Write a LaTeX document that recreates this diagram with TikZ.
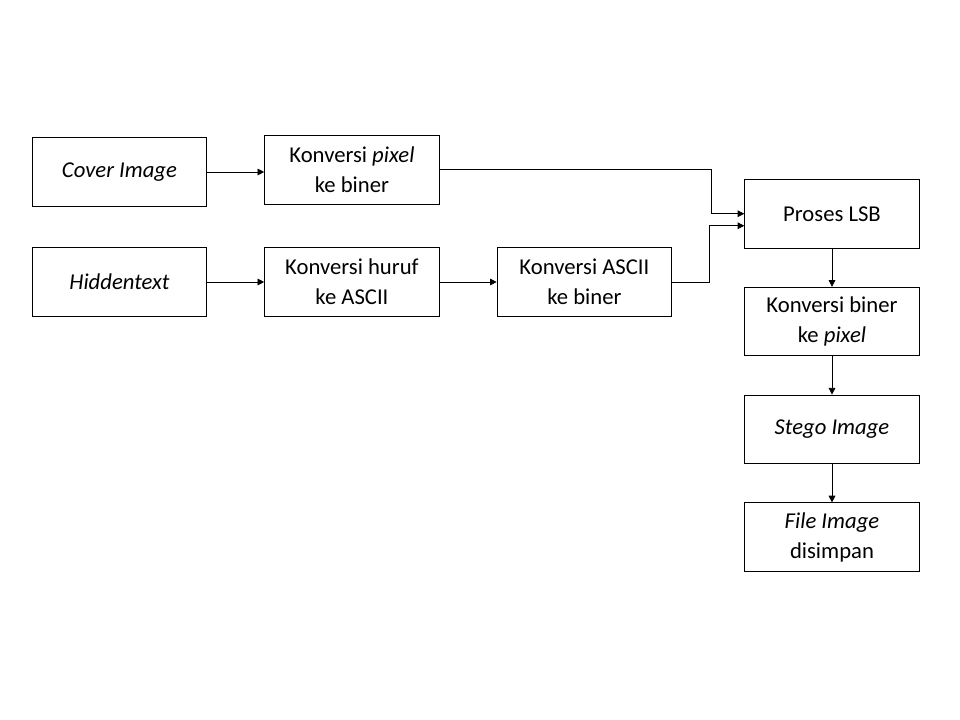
\documentclass[tikz,border=0pt]{standalone}
\usepackage{fontspec}
\setmainfont{Carlito}
\usetikzlibrary{positioning,arrows.meta}

\begin{document}
\begin{tikzpicture}[box/.style={draw, line width=0.6pt, minimum width=131pt, minimum height=51.5pt, align=center, font=\fontsize{17}{22.5}\selectfont},
  arr/.style={line width=0.6pt, -{Triangle[length=5pt,width=5pt]}},
  node distance=28.75pt and 42.75pt]
\useasboundingbox (0,0) rectangle (720pt,-540pt);
\node [box] (cover) at (89.6pt,-129pt) {\textit{Cover Image}};
\node [box, right=of cover, yshift=1.8pt] (pixel) {Konversi \textit{pixel}\\ke biner};
\node [box] (hidden) at (89.6pt,-211.5pt) {\textit{Hiddentext}};
\node [box, right=of hidden] (huruf) {Konversi huruf\\ke ASCII};
\node [box, right=of huruf] (ascii) {Konversi ASCII\\ke biner};
\node [box] (lsb) at (624pt,-160.3pt) {Proses LSB};
\node [box, below=of lsb] (biner) {Konversi biner\\ke \textit{pixel}};
\node [box, below=of biner] (stego) {\textit{Stego Image}};
\node [box, below=of stego] (file) {\textit{File Image}\\disimpan};
\coordinate (lsbin) at ([yshift=-9pt]lsb.west);

\draw [arr] (cover) -- (cover -| pixel.west);
\draw [arr] (hidden) -- (huruf);
\draw [arr] (huruf) -- (ascii);
\draw [arr] (pixel.east) -| ([xshift=-24.75pt]lsb.west) -- (lsb.west);
\draw [arr] (ascii.east) -| ([xshift=-26.25pt]lsbin) -- (lsbin);
\draw [arr] (lsb) -- (biner);
\draw [arr] (biner) -- (stego);
\draw [arr] (stego) -- (file);
\end{tikzpicture}
\end{document}
